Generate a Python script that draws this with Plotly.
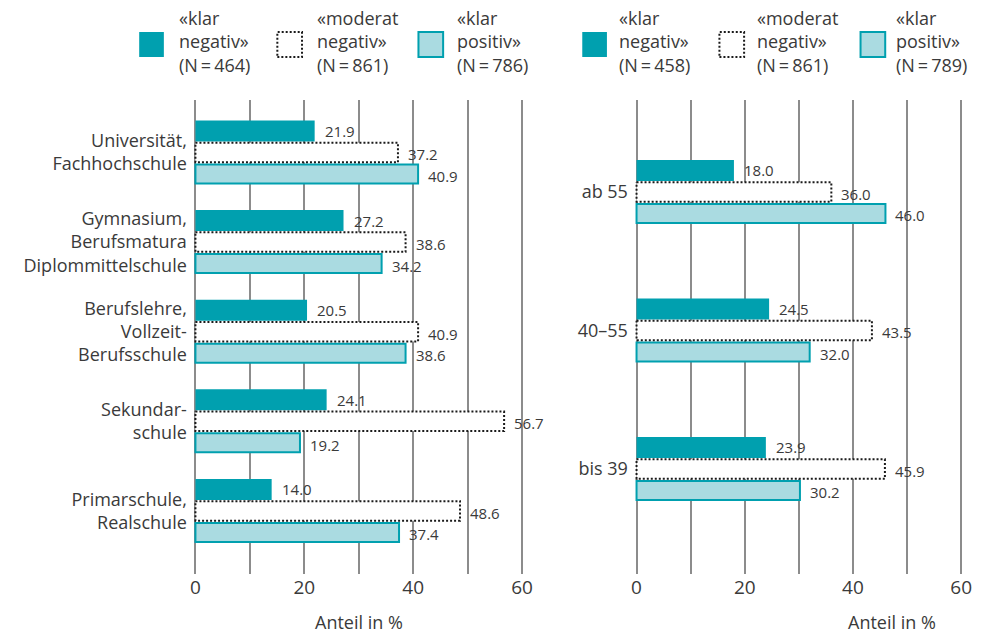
import plotly.graph_objects as go

W, H = 985, 635

# ---- data -------------------------------------------------------------
edu_labels = ["Universität,<br>Fachhochschule",
              "Gymnasium,<br>Berufsmatura<br>Diplommittelschule",
              "Berufslehre,<br>Vollzeit-<br>Berufsschule",
              "Sekundar-<br>schule",
              "Primarschule,<br>Realschule"]
edu_klar_neg = [21.9, 27.2, 20.5, 24.1, 14.0]
edu_mod_neg = [37.2, 38.6, 40.9, 56.7, 48.6]
edu_klar_pos = [40.9, 34.2, 38.6, 19.2, 37.4]
edu_n = [464, 861, 786]

age_labels = ["ab 55", "40–55", "bis 39"]
age_klar_neg = [18.0, 24.5, 23.9]
age_mod_neg = [36.0, 43.5, 45.9]
age_klar_pos = [46.0, 32.0, 30.2]
age_n = [458, 861, 789]

series_names = ["«klar<br>negativ»", "«moderat<br>negativ»", "«klar<br>positiv»"]
x_tickvals = [0, 10, 20, 30, 40, 50, 60]
x_ticktext = ["0", "", "20", "", "40", "", "60"]
axis_title = "Anteil in %"

# ---- styles -----------------------------------------------------------
FONT = "Open Sans"
TXT = "#3a3a3a"
DARK = "#00a0af"
LIGHT = "#aadbe1"
GRID = "#8c8c8c"

GRID_TOP, GRID_BOT = 100, 574  # pixel rows of the plotting area


def px(x):
    return x / W


def py(y):
    return 1 - y / H


panels = [
    dict(labels=edu_labels, neg=edu_klar_neg, mod=edu_mod_neg, pos=edu_klar_pos,
         n=edu_n, x0=194, x60=525, yc0=152.5, step=89.6,
         leg_sq=[137, 277, 420], leg_tx=[175, 315, 457], title_x=360),
    dict(labels=age_labels, neg=age_klar_neg, mod=age_mod_neg, pos=age_klar_pos,
         n=age_n, x0=641, x60=970, yc0=192, step=138.5,
         leg_sq=[586, 725, 868], leg_tx=[621, 761, 902], title_x=900),
]

fig = go.Figure()
shapes = []
annotations = []

for k, p in enumerate(panels):
    sfx = "" if k == 0 else str(k + 1)
    xa, ya = "x" + sfx, "y" + sfx
    ppu = (p["x60"] - p["x0"]) / 60
    step = p["step"]
    cats = list(range(len(p["labels"])))
    off = 21.5 / step
    hb = 21 / step

    # klar negativ
    fig.add_trace(go.Bar(
        x=p["neg"], y=[c - off for c in cats], orientation="h", width=hb,
        marker=dict(color=DARK, line=dict(width=0)),
        xaxis=xa, yaxis=ya, showlegend=False, hoverinfo="x"))
    # moderat negativ: white body with dotted outline
    hm = 19.5 / step
    fig.add_trace(go.Bar(
        x=p["mod"], y=cats, orientation="h", width=hm,
        marker=dict(color="white", line=dict(width=0)),
        xaxis=xa, yaxis=ya, showlegend=False, hoverinfo="x"))
    ox, oy = [], []
    for c, v in zip(cats, p["mod"]):
        ox += [0, v, v, 0, 0, None]
        oy += [c - hm / 2, c - hm / 2, c + hm / 2, c + hm / 2, c - hm / 2, None]
    fig.add_trace(go.Scatter(
        x=ox, y=oy, mode="lines", line=dict(color="#1a1a1a", width=2, dash="2px,2px"),
        xaxis=xa, yaxis=ya, showlegend=False, hoverinfo="skip", cliponaxis=False))
    # klar positiv
    fig.add_trace(go.Bar(
        x=p["pos"], y=[c + off for c in cats], orientation="h", width=19 / step,
        marker=dict(color=LIGHT, line=dict(width=2, color=DARK)),
        xaxis=xa, yaxis=ya, showlegend=False, hoverinfo="x"))

    # value labels
    for vals, dy, sh in ((p["neg"], -off, 0), (p["mod"], 0, -2), (p["pos"], off, -2)):
        for c, v in zip(cats, vals):
            annotations.append(dict(
                x=v, y=c + dy, xref=xa, yref=ya, text=f"{v:.1f}", showarrow=False,
                xanchor="left", yanchor="middle", xshift=8, yshift=sh,
                font=dict(family=FONT, size=15, color=TXT)))

    ytop = (GRID_TOP - p["yc0"]) / step
    ybot = (GRID_BOT - p["yc0"]) / step
    fig.update_layout(**{
        "xaxis" + sfx: dict(
            domain=[px(p["x0"] - 0.3 * ppu), px(p["x60"] + 0.3 * ppu)],
            range=[-0.3, 60.3], anchor=ya, tickvals=x_tickvals, ticktext=x_ticktext,
            showgrid=True, gridcolor=GRID, gridwidth=2, zeroline=False, showline=False,
            ticks="", tickfont=dict(family=FONT, size=19, color=TXT), fixedrange=True),
        "yaxis" + sfx: dict(
            domain=[py(GRID_BOT), py(GRID_TOP)], range=[ybot, ytop], anchor=xa,
            tickvals=cats, ticktext=p["labels"], showgrid=False, zeroline=False,
            showline=False, ticks="", ticklabelstandoff=6,
            tickfont=dict(family=FONT, size=18, color=TXT), fixedrange=True),
    })

    # legend
    for j, (sx, tx) in enumerate(zip(p["leg_sq"], p["leg_tx"])):
        if j == 0:
            st = dict(fillcolor=DARK, line=dict(width=0))
        elif j == 1:
            st = dict(fillcolor="white", line=dict(color="#1a1a1a", width=2, dash="2px,2px"))
        else:
            st = dict(fillcolor=LIGHT, line=dict(color=DARK, width=2))
        shapes.append(dict(type="rect", xref="paper", yref="paper",
                           x0=px(sx), x1=px(sx + 25), y0=py(57), y1=py(32), **st))
        annotations.append(dict(
            x=px(tx), y=py(42), xref="paper", yref="paper", showarrow=False,
            xanchor="left", yanchor="middle", align="left",
            text=f"{series_names[j]}<br>(N\u2009=\u2009{p['n'][j]})",
            font=dict(family=FONT, size=18, color=TXT)))

    annotations.append(dict(
        x=px(p["title_x"]), y=py(622), xref="paper", yref="paper", showarrow=False,
        xanchor="center", yanchor="middle", text=axis_title,
        font=dict(family=FONT, size=18, color=TXT)))

fig.update_layout(
    width=W, height=H, autosize=False,
    margin=dict(l=0, r=0, t=0, b=0),
    paper_bgcolor="white", plot_bgcolor="white",
    barmode="overlay", shapes=shapes, annotations=annotations,
    font=dict(family=FONT, color=TXT), showlegend=False,
)

# page without body margin or scrollbars, so the figure fills the window exactly
fig.write_html(
    "out.html",
    post_script="document.body.style.margin='0';document.body.style.overflow='hidden';",
)
